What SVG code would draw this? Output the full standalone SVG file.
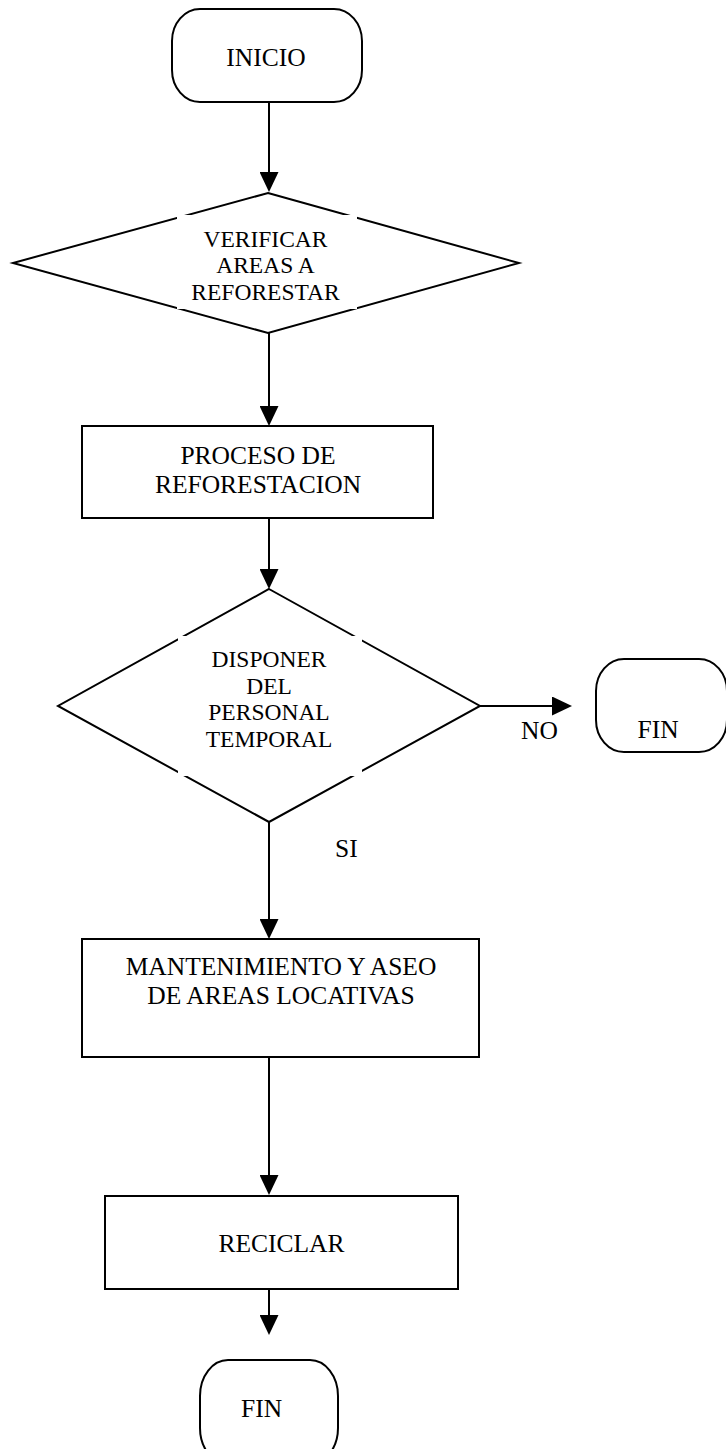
<svg xmlns="http://www.w3.org/2000/svg" width="726" height="1449" viewBox="0 0 726 1449">
  <style>
    .shape { fill: #ffffff; stroke: #000000; stroke-width: 2; }
    .mask { fill: #ffffff; stroke: none; }
    .wire { fill: none; stroke: #000000; stroke-width: 2; }
    .t12 { font-family: "Liberation Serif", "Times New Roman", serif; font-size: 25.5px; fill: #000000; }
    .t11 { font-family: "Liberation Serif", "Times New Roman", serif; font-size: 23.5px; fill: #000000; text-anchor: middle; }
    .mid { text-anchor: middle; }
  </style>
  <defs>
    <marker id="arrow" viewBox="0 0 20 19" refX="10" refY="9.5" markerWidth="20" markerHeight="19" markerUnits="userSpaceOnUse" orient="auto">
      <path d="M0,0 L20,9.5 L0,19 Z" fill="#000000"/>
    </marker>
  </defs>

  <rect width="726" height="1449" fill="#ffffff"/>

  <!-- connectors -->
  <g id="connectors">
    <line class="wire" x1="269" y1="102" x2="269" y2="182" marker-end="url(#arrow)"/>
    <line class="wire" x1="269" y1="333" x2="269" y2="416" marker-end="url(#arrow)"/>
    <line class="wire" x1="269" y1="518" x2="269" y2="579" marker-end="url(#arrow)"/>
    <line class="wire" x1="480" y1="706" x2="562" y2="706" marker-end="url(#arrow)"/>
    <line class="wire" x1="269" y1="822" x2="269" y2="929" marker-end="url(#arrow)"/>
    <line class="wire" x1="269" y1="1057" x2="269" y2="1185" marker-end="url(#arrow)"/>
    <line class="wire" x1="269" y1="1289" x2="269" y2="1325" marker-end="url(#arrow)"/>
    <text class="t12" x="521" y="739">NO</text>
    <text class="t12" x="335" y="857">SI</text>
  </g>

  <!-- start terminal -->
  <g id="inicio">
    <rect class="shape" x="172" y="9" width="190" height="93" rx="28" ry="32"/>
    <text class="t12 mid" x="266" y="66">INICIO</text>
  </g>

  <!-- decision: areas to reforest -->
  <g id="verificar">
    <polygon class="shape" points="268,193 519,263 268,333 13,263"/>
    <rect class="mask" x="177" y="215" width="180" height="94"/>
    <text class="t11" x="265.5" y="247">VERIFICAR</text>
    <text class="t11" x="265.5" y="273">AREAS A</text>
    <text class="t11" x="265.5" y="300">REFORESTAR</text>
  </g>

  <!-- process: reforestation -->
  <g id="proceso">
    <rect class="shape" x="82" y="426" width="351" height="92"/>
    <text class="t12 mid" x="258" y="464">PROCESO DE</text>
    <text class="t12 mid" x="258" y="493">REFORESTACION</text>
  </g>

  <!-- decision: temporary staff -->
  <g id="disponer">
    <polygon class="shape" points="269,589 480,706 269,822 58,706"/>
    <rect class="mask" x="178" y="636" width="184" height="140"/>
    <text class="t11" x="269" y="667">DISPONER</text>
    <text class="t11" x="269" y="693.5">DEL</text>
    <text class="t11" x="269" y="720">PERSONAL</text>
    <text class="t11" x="269" y="746.5">TEMPORAL</text>
  </g>

  <!-- end terminal on the NO branch -->
  <g id="fin-no">
    <rect class="shape" x="596" y="659" width="131" height="93" rx="28" ry="32"/>
    <text class="t12 mid" x="658" y="738">FIN</text>
  </g>

  <!-- process: maintenance -->
  <g id="mantenimiento">
    <rect class="shape" x="82" y="939" width="397" height="118"/>
    <text class="t12 mid" x="281" y="975">MANTENIMIENTO Y ASEO</text>
    <text class="t12 mid" x="281" y="1004">DE AREAS LOCATIVAS</text>
  </g>

  <!-- process: recycling -->
  <g id="reciclar">
    <rect class="shape" x="105" y="1196" width="353" height="93"/>
    <text class="t12 mid" x="281.5" y="1252">RECICLAR</text>
  </g>

  <!-- final terminal -->
  <g id="fin">
    <rect class="shape" x="200" y="1360" width="138" height="104" rx="28" ry="36"/>
    <text class="t12 mid" x="261.5" y="1417">FIN</text>
  </g>
</svg>
